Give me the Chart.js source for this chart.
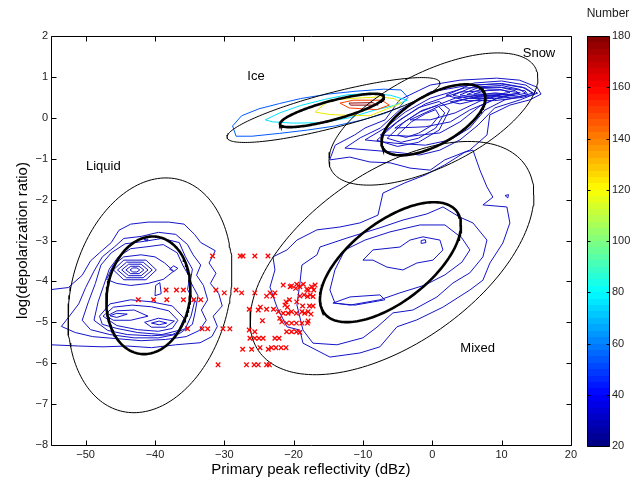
<!DOCTYPE html>
<html>
<head>
<meta charset="utf-8">
<script src="https://cdn.jsdelivr.net/npm/chart.js@4.4.0/dist/chart.umd.min.js"></script>
<style>
  html, body { margin: 0; padding: 0; background: #fff; }
  body { width: 636px; height: 483px; position: relative; overflow: hidden; }
  #main { position: absolute; left: 0; top: 0; }
  #cbar { position: absolute; left: 560px; top: 0; }
</style>
</head>
<body>
<canvas id="main" width="580" height="483"></canvas>
<canvas id="cbar" width="76" height="483"></canvas>
<script>
// ---- axis ticks ----
const xTicks = [-50, -40, -30, -20, -10, 0, 10, 20];
const yTicks = [-8, -7, -6, -5, -4, -3, -2, -1, 0, 1, 2];
const cbTicks = [20, 40, 60, 80, 100, 120, 140, 160, 180];

// ---- class regions (centre, conjugate semi-axes u and v, in data units) ----
const ellipseCentre = [
  [-40.72, -4.34], [-40.95, -4.34],
  [-14.25, 0.19], [-14.47, 0.18],
  [0.17, -0.03], [0.17, -0.05],
  [-5.81, -3.43], [-6.03, -3.53]
];
const ellipseU = [
  [11.6, 0], [6.06, 0.15],
  [15.36, 0.66], [7.5, 0.33],
  [15.07, 1.0], [7.5, 0.54],
  [20.48, 1.54], [10.17, 0.905]
];
const ellipseV = [
  [2.31, 2.87], [0, 1.43],
  [0, 0.44], [0, 0.24],
  [0, 1.27], [0, 0.68],
  [0, 2.40], [0, 1.154]
];

const regionNames = ['Liquid', 'Ice', 'Snow', 'Mixed'];

// ---- occurrence contours (x: dBz, y: log depolarization ratio) ----
const liquidContours = [
  [[-55,-4.2],[-52.5,-4.15],[-50.5,-3.85],[-49.3,-3.5],[-48,-3.3],[-46.3,-3.05],[-45.2,-2.75],[-43.5,-2.6],[-41,-2.55],[-38,-2.55],[-35.8,-2.6],[-34.3,-2.85],[-33.4,-3.05],[-31.3,-3.25],[-32.2,-3.55],[-31.2,-3.8],[-32,-4.05],[-30.8,-4.3],[-30.3,-4.6],[-31.6,-4.85],[-31.0,-5.1],[-31.8,-5.35],[-33.5,-5.5],[-37,-5.55],[-40.5,-5.62],[-44,-5.58],[-47.5,-5.6],[-51,-5.58],[-55,-5.55]],
  [[-52.8,-4.95],[-51,-4.55],[-50,-4.15],[-48.8,-3.75],[-47.6,-3.4],[-45.8,-3.15],[-44.5,-2.95],[-42,-2.9],[-39.5,-2.8],[-37,-2.85],[-35.3,-3.1],[-34.5,-3.35],[-33.4,-3.6],[-34,-3.85],[-33,-4.1],[-32.4,-4.45],[-33.3,-4.7],[-32.6,-4.95],[-33.6,-5.2],[-35.5,-5.35],[-38.5,-5.42],[-42,-5.45],[-45.5,-5.4],[-49,-5.35],[-51.5,-5.25],[-53.5,-5.1]],
  [[-50.5,-4.95],[-49.6,-4.5],[-48.6,-4.05],[-47.8,-3.6],[-46.3,-3.3],[-44.3,-3.08],[-41.5,-3.02],[-39,-2.95],[-36.5,-3.05],[-35.6,-3.4],[-34.6,-3.7],[-34.9,-4.0],[-33.8,-4.35],[-34.2,-4.75],[-34.6,-5.05],[-36.5,-5.28],[-39.5,-5.38],[-43,-5.38],[-46.5,-5.3],[-49.3,-5.18]],
  [[-48.8,-4.95],[-48.2,-4.5],[-47.4,-4.1],[-46.6,-3.7],[-45.3,-3.4],[-43.5,-3.2],[-41,-3.15],[-38.8,-3.1],[-36.8,-3.3],[-36,-3.6],[-35,-3.9],[-35.3,-4.2],[-34.3,-4.5],[-34.8,-4.85],[-35.6,-5.15],[-37.5,-5.3],[-40.5,-5.33],[-44,-5.3],[-46.8,-5.2]],
  [[-47,-3.95],[-46,-3.6],[-44.5,-3.4],[-42,-3.35],[-40,-3.4],[-38.6,-3.55],[-37.3,-3.75],[-38.8,-3.95],[-41,-4.05],[-43.5,-4.1],[-45.5,-4.05]],
  [[-46,-3.72],[-44.5,-3.48],[-41.3,-3.48],[-39.8,-3.72],[-41.3,-3.96],[-44.5,-3.96]],
  [[-45.4,-3.72],[-44.1,-3.53],[-41.7,-3.53],[-40.4,-3.72],[-41.7,-3.91],[-44.1,-3.91]],
  [[-44.8,-3.72],[-43.8,-3.58],[-42,-3.58],[-41,-3.72],[-42,-3.86],[-43.8,-3.86]],
  [[-44.2,-3.72],[-43.5,-3.63],[-42.3,-3.63],[-41.6,-3.72],[-42.3,-3.81],[-43.5,-3.81]],
  [[-43.6,-3.72],[-43.2,-3.67],[-42.6,-3.67],[-42.2,-3.72],[-42.6,-3.77],[-43.2,-3.77]],
  [[-37.9,-3.7],[-37.3,-3.62],[-36.7,-3.68],[-37.3,-3.76]],
  [[-40.0,-4.35],[-39.9,-4.1],[-39.3,-4.03],[-39.1,-4.3]],
  [[-41.6,-2.98],[-41.0,-2.96],[-41.1,-3.01]],
  [[-48,-4.85],[-46.5,-4.55],[-43.5,-4.45],[-40.5,-4.5],[-37.5,-4.6],[-35.8,-4.9],[-36.6,-5.2],[-39,-5.3],[-42.5,-5.25],[-45.5,-5.15],[-47.6,-5.05]],
  [[-47.5,-4.85],[-46,-4.63],[-43.3,-4.58],[-40.5,-4.62],[-38,-4.72],[-36.7,-4.95],[-37.5,-5.15],[-39.5,-5.22],[-42.5,-5.18],[-45.5,-5.08]],
  [[-47,-4.85],[-45.5,-4.72],[-43,-4.7],[-41,-4.85],[-43.5,-4.95],[-46,-4.95]],
  [[-46.5,-4.84],[-45.5,-4.78],[-44,-4.8],[-45.5,-4.88]],
  [[-41.5,-5.0],[-39.5,-4.9],[-37.2,-4.97],[-38.5,-5.12],[-40.5,-5.12]],
  [[-40.5,-5.02],[-39.4,-4.97],[-38.3,-5.02],[-39.4,-5.06]]
];

const iceContours = [
  [[-28.8,-0.2],[-27.5,0.05],[-25,0.22],[-22,0.35],[-19,0.47],[-15,0.58],[-11,0.65],[-7,0.7],[-4.5,0.68],[-3.5,0.5],[-4.8,0.25],[-7,0.1],[-10,-0.05],[-14,-0.2],[-18,-0.3],[-22,-0.38],[-26,-0.45],[-28.3,-0.45]],
  [[-24.1,-0.05],[-22,0.12],[-19,0.3],[-15.5,0.45],[-12.3,0.56],[-9,0.6],[-6,0.55],[-3.6,0.43],[-5.5,0.3],[-8.5,0.18],[-12,0.0],[-16,-0.12],[-20,-0.13],[-23,-0.1]],
  [[-16.9,0.14],[-15.8,0.3],[-14.8,0.43],[-11,0.48],[-7.5,0.51],[-5.5,0.47],[-4.4,0.36],[-6.5,0.22],[-9,0.05],[-12,0.06],[-14.8,0.08]],
  [[-13.3,0.36],[-11.4,0.43],[-7.3,0.43],[-6.2,0.31],[-8,0.2],[-12,0.24]],
  [[-12,0.36],[-8.5,0.37],[-8.2,0.31],[-11.8,0.31]]
];

const snowContours = [
  [[-14.8,-1.03],[-14.0,-0.67],[-11.2,-0.42],[-9.7,-0.25],[-6.8,-0.05],[-4.7,0.44],[-0.3,0.80],[4.0,0.92],[9.3,0.97],[12.6,0.92],[15.1,0.75],[15.7,0.58],[14.1,0.44],[11.2,0.31],[8.3,0.07],[7.9,-0.42],[5.4,-0.79],[1.8,-1.03],[-0.3,-1.28],[-3.2,-1.23],[-6.1,-1.10],[-9.0,-1.08],[-11.9,-0.96]],
  [[-12.6,-0.74],[-10.4,-0.49],[-7.5,-0.25],[-4.7,0.19],[-0.3,0.63],[5.4,0.80],[9.8,0.83],[13.4,0.73],[14.8,0.58],[12.7,0.44],[9.0,0.24],[6.6,-0.18],[4.0,-0.54],[1.1,-0.79],[-1.8,-0.91],[-5.4,-0.84],[-9.0,-0.79]],
  [[-9.7,-0.54],[-6.8,-0.25],[-3.9,0.14],[-0.3,0.48],[4.7,0.73],[9.8,0.75],[13.4,0.66],[13.8,0.56],[10.5,0.44],[7.6,0.19],[5.4,-0.25],[2.6,-0.54],[-1.0,-0.67],[-5.4,-0.62]],
  [[-7.5,-0.42],[-4.7,-0.05],[-1.0,0.34],[4.0,0.63],[9.8,0.68],[12.7,0.61],[9.8,0.51],[6.9,0.29],[4.0,-0.10],[1.1,-0.37],[-3.2,-0.45]],
  [[-5.4,-0.25],[-1.8,0.14],[3.3,0.48],[9.1,0.61],[11.5,0.56],[9.1,0.46],[5.4,0.19],[2.6,-0.10],[-1.0,-0.22]],
  [[-3.2,-0.05],[1.1,0.29],[5.4,0.48],[9.8,0.56],[6.9,0.41],[3.3,0.12],[-0.3,-0.05]],
  [[2.6,0.39],[6.9,0.53],[10.5,0.58],[7.6,0.48],[4.0,0.34]],
  [[2.0,0.55],[6,0.85],[10,0.9],[13.5,0.8],[15.2,0.6],[13,0.5],[9,0.42],[5,0.42]],
  [[3.0,0.55],[6.5,0.8],[10,0.84],[13,0.75],[14.5,0.6],[12.5,0.52],[9,0.47],[5.5,0.47]],
  [[4,0.56],[7,0.76],[10,0.79],[12.5,0.7],[13.5,0.6],[12,0.55],[9,0.51],[6,0.51]],
  [[5,0.57],[7.5,0.72],[10,0.74],[12,0.66],[12.5,0.6],[11,0.57],[8.5,0.55],[6.5,0.55]],
  [[6,0.58],[8,0.68],[10,0.69],[11.2,0.62],[10,0.59],[8,0.58]],
  [[-8,-0.55],[-5,-0.1],[-2,0.25],[1,0.4],[2.5,0.2],[1,-0.3],[-2,-0.6],[-5,-0.7]],
  [[-6.5,-0.5],[-4,-0.1],[-1.5,0.18],[0.8,0.3],[1.8,0.12],[0.5,-0.25],[-2,-0.5],[-4.5,-0.6]],
  [[-5,-0.42],[-3,-0.1],[-1,0.1],[0.5,0.2],[1,0.05],[-0.2,-0.2],[-2,-0.38],[-3.8,-0.48]]
];

const mixedContours = [
  [[-7.11,-1.84],[-3.94,-1.59],[-1.05,-1.40],[1.83,-1.15],[4.72,-0.84],[5.87,-0.79],[6.88,-1.28],[7.89,-1.69],[8.75,-1.94],[7.31,-2.13],[10.77,-2.18],[11.2,-2.57],[10.19,-3.06],[8.32,-3.55],[7.31,-3.97],[5.43,-4.21],[1.54,-4.63],[-2.21,-4.94],[-5.09,-5.11],[-7.55,-5.60],[-10.43,-5.75],[-14.76,-5.85],[-18.65,-5.51],[-19.09,-5.19],[-20.96,-5.11],[-22.4,-4.63],[-23.41,-4.14],[-22.69,-3.72],[-22.98,-3.40],[-20.96,-3.23],[-19.52,-2.99],[-16.63,-2.74],[-13.32,-2.67],[-10.43,-2.57],[-7.83,-2.38]],
  [[-19.09,-4.04],[-18.8,-3.6],[-16.63,-3.35],[-16.2,-3.16],[-12.31,-2.94],[-10.43,-2.84],[-7.55,-2.69],[-4.23,-2.5],[-0.77,-2.35],[1.54,-2.18],[3.99,-2.43],[5.87,-2.57],[7.89,-2.99],[7.31,-3.40],[5.43,-3.79],[2.98,-4.04],[0.68,-4.38],[-2.79,-4.70],[-5.67,-4.77],[-7.98,-5.12],[-10.0,-5.38],[-13.75,-5.55],[-17.21,-5.51],[-18.65,-5.19],[-19.52,-4.58]],
  [[-14.76,-4.21],[-14.04,-3.72],[-12.6,-3.23],[-9.71,-2.99],[-6.1,-2.79],[-1.78,-2.62],[1.83,-2.62],[4.28,-2.94],[5.43,-3.23],[4.28,-3.53],[1.83,-3.84],[-1.05,-4.09],[-4.66,-4.28],[-7.55,-4.45],[-11.87,-4.58],[-14.04,-4.53]],
  [[-10.0,-3.48],[-8.56,-3.23],[-4.66,-3.16],[-3.22,-2.99],[-1.34,-2.91],[1.11,-2.99],[1.54,-3.23],[0.1,-3.48],[-2.21,-3.55],[-4.23,-3.72],[-6.54,-3.65],[-8.56,-3.48]],
  [[-1.6,-3.0],[-1.0,-2.98],[-0.9,-3.05],[-1.5,-3.07]],
  [[-14.33,-4.53],[-11.87,-4.38],[-7.55,-4.33],[-6.83,-4.45],[-11.15,-4.58]],
  [[10.5,-1.9],[11.0,-1.88],[10.9,-1.96]]
];

// ---- individual samples shown as crosses ----
const sampleX = [
  -42.4,-40.2,-38.4,-38.3,-36.9,-35.9,-35.9,-34.4,-33.4,
  -35.3,-33.2,-32.4,-30.2,-29.2,
  -31.7,-27.7,-27.3,-25.6,-23.7,
  -31.2,-30.0,-28.3,-27.5,-25.6,-23.9,-23.4,-22.7,-23.0,
  -26.4,-25.1,-24.8,-23.9,-22.9,-24.5,
  -26.4,-25.6,
  -26.3,-25.6,-25.0,-24.4,-22.7,-22.1,
  -27.35,-26.05,-24.85,-23.65,-23.2,-22.55,-21.8,-21.1,
  -30.9,-26.8,-25.7,-25.1,-23.9,-23.5,
  -21.5,-20.5,-19.55,-19.1,-18.1,-17.4,-16.9,-17.1,-20.3,-19.7,-17.9,-18.6,
  -17.6,-17.2,-18.0,-19.1,-18.5,
  -19.55,-21.1,-20.6,-18.7,-17.7,-17.2,-21.25,-20.9,
  -22.2,-21.5,-20.8,-20.3,-19.6,-18.8,-18.4,-17.9,-17.5,
  -22.0,-21.7,-21.0,-20.3,-19.6,-18.8,-18.0,-17.9,
  -21.0,-20.3,-19.6,-19.1
];
const sampleY = [
  -4.45,-4.45,-4.21,-4.45,-4.21,-4.21,-4.45,-4.45,-4.45,
  -5.16,-5.16,-5.16,-5.16,-5.16,
  -3.38,-3.38,-3.38,-3.38,-3.38,
  -4.21,-4.28,-4.21,-4.28,-4.28,-4.36,-4.28,-4.28,-4.36,
  -4.68,-4.70,-4.63,-4.68,-4.68,-4.96,
  -5.19,-5.23,
  -5.39,-5.39,-5.39,-5.39,-5.39,-5.39,
  -5.66,-5.66,-5.62,-5.66,-5.62,-5.62,-5.62,-5.62,
  -6.04,-6.04,-6.04,-6.04,-6.04,-6.04,
  -4.09,-4.13,-4.07,-4.13,-4.19,-4.13,-4.09,-4.21,-4.11,-4.17,-4.21,-4.07,
  -4.33,-4.37,-4.37,-4.36,-4.33,
  -4.50,-4.50,-4.45,-4.60,-4.60,-4.60,-4.58,-4.63,
  -4.74,-4.78,-4.78,-4.74,-4.78,-4.74,-4.78,-4.74,-4.80,
  -4.90,-4.99,-5.02,-5.02,-5.02,-5.02,-5.02,-4.97,
  -5.23,-5.23,-5.23,-5.25
];

// ---- styling ----
const FONT = "'Liberation Sans', Arial, Helvetica, sans-serif";
const contourBlue = 'rgb(20,20,200)';
const iceColours = ['rgb(0,90,255)', 'rgb(0,225,255)', 'rgb(235,235,0)', 'rgb(255,60,0)', 'rgb(150,0,0)'];
const ellipseBold = [false, true, false, true, false, true, false, true];
const regionAnchor = [[-47.46, -1.18], [-25.43, 1.02], [15.4, 1.57], [6.55, -5.63]];

function jet(t) {
  const c = v => Math.max(0, Math.min(1, v));
  const r = c(1.5 - Math.abs(4 * t - 3));
  const g = c(1.5 - Math.abs(4 * t - 2));
  const b = c(1.5 - Math.abs(4 * t - 1));
  return `rgb(${Math.round(r * 255)},${Math.round(g * 255)},${Math.round(b * 255)})`;
}

const toPts = arr => {
  const pts = arr.map(([x, y]) => ({ x, y }));
  pts.push({ x: arr[0][0], y: arr[0][1] });
  return pts;
};

function ellipsePts(i) {
  const [cx, cy] = ellipseCentre[i], [ux, uy] = ellipseU[i], [vx, vy] = ellipseV[i];
  const pts = [];
  const n = 180;
  for (let k = 0; k <= n; k++) {
    const t = 2 * Math.PI * k / n;
    pts.push({ x: cx + ux * Math.cos(t) + vx * Math.sin(t), y: cy + uy * Math.cos(t) + vy * Math.sin(t) });
  }
  return pts;
}

const lineSet = (data, color, width) => ({
  type: 'scatter', data, showLine: true, pointRadius: 0, borderColor: color,
  borderWidth: width, fill: false, tension: 0
});

const datasets = [];
// crosses on top
datasets.push({
  type: 'scatter',
  data: sampleX.map((x, i) => ({ x, y: sampleY[i] })),
  pointStyle: 'crossRot', pointRadius: 3.2, borderColor: 'rgb(255,0,0)',
  backgroundColor: 'rgb(255,0,0)', borderWidth: 1.3, showLine: false
});
ellipseCentre.forEach((_, i) => datasets.push(lineSet(ellipsePts(i), '#000', ellipseBold[i] ? 2.6 : 1)));
iceContours.slice().reverse().forEach((c, j) => datasets.push(lineSet(toPts(c), iceColours[iceContours.length - 1 - j], 1)));
[liquidContours, snowContours, mixedContours].forEach(group =>
  group.forEach(c => datasets.push(lineSet(toPts(c), contourBlue, 1))));

const fmt = v => (v < 0 ? '\u2212' + Math.abs(v) : String(v));

// frame with inward ticks and the class names
const framePlugin = {
  id: 'frame',
  afterDatasetsDraw(chart) {
    const { ctx, chartArea: a, scales } = chart;
    const L = Math.round(a.left) + 0.5, R = Math.round(a.right) + 0.5;
    const T = Math.round(a.top) + 0.5, B = Math.round(a.bottom) + 0.5;
    ctx.save();
    ctx.strokeStyle = '#000';
    ctx.lineWidth = 1;
    ctx.beginPath();
    ctx.rect(L, T, R - L, B - T);
    xTicks.forEach(v => {
      const p = Math.round(scales.x.getPixelForValue(v)) + 0.5;
      ctx.moveTo(p, B); ctx.lineTo(p, B - 5);
      ctx.moveTo(p, T); ctx.lineTo(p, T + 5);
    });
    yTicks.forEach(v => {
      const p = Math.round(scales.y.getPixelForValue(v)) + 0.5;
      ctx.moveTo(L, p); ctx.lineTo(L + 5, p);
      ctx.moveTo(R, p); ctx.lineTo(R - 5, p);
    });
    ctx.stroke();

    ctx.fillStyle = '#000';
    ctx.font = `13px ${FONT}`;
    ctx.textAlign = 'center';
    ctx.textBaseline = 'middle';
    regionNames.forEach((name, i) => {
      const [x, y] = regionAnchor[i];
      ctx.fillText(name, scales.x.getPixelForValue(x), scales.y.getPixelForValue(y));
    });

    ctx.font = `15px ${FONT}`;
    ctx.fillText('Primary peak reflectivity (dBz)', (a.left + a.right) / 2, 470);
    ctx.translate(23, (a.top + a.bottom) / 2);
    ctx.rotate(-Math.PI / 2);
    ctx.fillText('log(depolarization ratio)', 0, 0);
    ctx.restore();
  }
};

new Chart(document.getElementById('main'), {
  type: 'scatter',
  data: { datasets },
  options: {
    responsive: false,
    animation: false,
    events: [],
    layout: { padding: { left: 0, top: 36, right: 9, bottom: 0 } },
    plugins: { legend: { display: false }, tooltip: { enabled: false } },
    scales: {
      x: {
        type: 'linear', min: -55, max: 20,
        afterBuildTicks: s => { s.ticks = xTicks.map(v => ({ value: v })); },
        afterFit: s => { s.height = 38; },
        grid: { display: false, drawTicks: false },
        border: { display: false },
        ticks: { padding: 3, color: '#222', font: { family: FONT, size: 11 }, callback: v => fmt(v), maxRotation: 0 }
      },
      y: {
        type: 'linear', min: -8, max: 2,
        afterBuildTicks: s => { s.ticks = yTicks.map(v => ({ value: v })); },
        afterFit: s => { s.width = 51; },
        grid: { display: false, drawTicks: false },
        border: { display: false },
        ticks: { padding: 3, color: '#222', font: { family: FONT, size: 11 }, callback: v => fmt(v) }
      }
    }
  },
  plugins: [framePlugin]
});

// ---- colour scale ----
const cbarPlugin = {
  id: 'cbarFrame',
  afterDatasetsDraw(chart) {
    const { ctx, chartArea: a, scales } = chart;
    const L = Math.round(a.left) + 0.5, R = Math.round(a.right) + 0.5;
    const T = Math.round(a.top) + 0.5, B = Math.round(a.bottom) + 0.5;
    ctx.save();
    ctx.strokeStyle = '#000';
    ctx.lineWidth = 1;
    ctx.beginPath();
    ctx.rect(L, T, R - L, B - T);
    cbTicks.forEach(v => {
      const p = Math.round(scales.y.getPixelForValue(v)) + 0.5;
      ctx.moveTo(L, p); ctx.lineTo(L + 3, p);
      ctx.moveTo(R, p); ctx.lineTo(R - 3, p);
    });
    ctx.stroke();
    ctx.fillStyle = '#222';
    ctx.font = `12px ${FONT}`;
    ctx.textAlign = 'center';
    ctx.textBaseline = 'middle';
    ctx.fillText('Number', a.right - 1, 14);
    ctx.restore();
  }
};

new Chart(document.getElementById('cbar'), {
  type: 'bar',
  data: {
    labels: ['Number'],
    datasets: [{
      data: [[cbTicks[0], cbTicks[cbTicks.length - 1]]],
      barPercentage: 1, categoryPercentage: 1, borderWidth: 0,
      backgroundColor: ctx => {
        const chart = ctx.chart;
        if (!chart.chartArea) return 'rgb(0,0,128)';
        const ys = chart.scales.y;
        const y0 = ys.getPixelForValue(ys.min), y1 = ys.getPixelForValue(ys.max);
        const g = chart.ctx.createLinearGradient(0, y0, 0, y1);
        const n = 64;
        for (let i = 0; i < n; i++) {
          const col = jet((i + 0.5) / n);
          g.addColorStop(i / n, col);
          g.addColorStop((i + 1) / n - 1e-6, col);
        }
        return g;
      }
    }]
  },
  options: {
    responsive: false,
    animation: false,
    events: [],
    layout: { padding: { left: 27, top: 36, right: 0, bottom: 37 } },
    plugins: { legend: { display: false }, tooltip: { enabled: false } },
    scales: {
      x: { display: false },
      y: {
        position: 'right', min: 20, max: 180,
        afterBuildTicks: s => { s.ticks = cbTicks.map(v => ({ value: v })); },
        afterFit: s => { s.width = 27; },
        grid: { display: false, drawTicks: false },
        border: { display: false },
        ticks: { padding: 3, color: '#222', font: { family: FONT, size: 11 } }
      }
    }
  },
  plugins: [cbarPlugin]
});
</script>
</body>
</html>
